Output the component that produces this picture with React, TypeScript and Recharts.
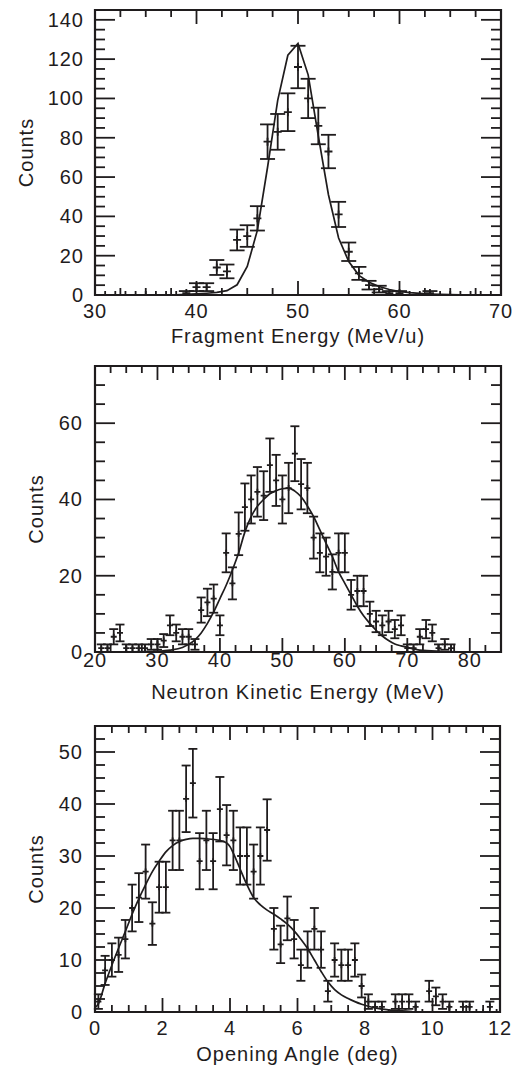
import React from 'react';
import { ComposedChart, Line, Scatter, ErrorBar, XAxis, YAxis, ReferenceArea } from 'recharts';

const INK = '#1f1c1d';
const FONT = '"Liberation Sans", Arial, Helvetica, sans-serif';
const FS = 20;
const LS = 1;

// ---------- Panel 1: Fragment Energy ----------
const fragEnergy = [31, 32, 33, 34, 35, 36, 37, 38, 39, 40, 41, 42, 43, 44, 45, 46, 47, 48, 49, 50, 51, 52, 53, 54, 55, 56, 57, 58, 59, 60, 61, 62, 63, 64, 65, 66, 67, 68, 69];
const fragCounts = [0, 0, 0, 0, 0, 0, 0, 0, 1, 4, 4, 14, 12, 28, 30, 39, 78, 83, 93, 116, 100, 86, 73, 41, 22, 11, 5, 3, 1, 1, 0, 0, 1, 0, 0, 0, 0, 0, 0];
const fragErrors = [0, 0, 0, 0, 0, 0, 0, 0, 1, 2, 2, 3.8, 3.5, 5.3, 5.5, 6.2, 8.8, 9.1, 9.6, 10.8, 10, 9.3, 8.5, 6.4, 4.7, 3.3, 2.2, 1.7, 1, 1, 0, 0, 1, 0, 0, 0, 0, 0, 0];
const fragFitEnergy = [37, 38, 39, 40, 41, 42, 43, 44, 45, 46, 47, 48, 49, 50, 51, 52, 53, 54, 55, 56, 57, 58, 59, 60, 61, 62, 63, 64, 65, 66, 68, 70];
const fragFitCounts = [0, 0.1, 0.3, 0.6, 0.9, 1.3, 2.2, 5.2, 14.5, 33, 65, 99, 122, 128, 112, 81, 51, 29, 17, 10, 6.5, 4.3, 2.8, 1.8, 1.2, 0.8, 0.5, 0.3, 0.2, 0.1, 0.05, 0];
const fragXMajor = [30, 40, 50, 60, 70];
const fragYMajor = [0, 20, 40, 60, 80, 100, 120, 140];

// ---------- Panel 2: Neutron Kinetic Energy ----------
const neutEnergy = [21, 22, 23, 24, 25, 26, 27, 28, 29, 30, 31, 32, 33, 34, 35, 36, 37, 38, 39, 40, 41, 42, 43, 44, 45, 46, 47, 48, 49, 50, 51, 52, 53, 54, 55, 56, 57, 58, 59, 60, 61, 62, 63, 64, 65, 66, 67, 68, 69, 70, 71, 72, 73, 74, 75, 76, 77];
const neutCounts = [1, 1, 4, 5, 1, 1, 1, 1, 2, 2, 3, 7, 5, 4, 4, 2, 11, 13, 14, 7, 26, 18, 31, 38, 40, 42, 41, 49, 45, 40, 43, 52, 44, 43, 30, 26, 25, 21, 26, 26, 15, 16, 16, 10, 8, 7, 8, 6, 7, 1, 1, 4, 6, 5, 1, 2, 1];
const neutErrors = [1, 1, 2, 2.2, 1, 1, 1, 1, 1.4, 1.4, 1.7, 2.6, 2.2, 2, 2, 1.4, 3.3, 3.6, 3.7, 2.6, 5.1, 4.2, 5.6, 6.2, 6.3, 6.5, 6.4, 7, 6.7, 6.3, 6.6, 7.2, 6.6, 6.6, 5.5, 5.1, 5, 4.6, 5.1, 5.1, 3.9, 4, 4, 3.2, 2.8, 2.6, 2.8, 2.4, 2.6, 1, 1, 2, 2.4, 2.2, 1, 1.4, 1];
const neutFitEnergy = [25, 28, 30, 32, 34, 35, 36, 37, 38, 39, 40, 41, 42, 43, 44, 45, 46, 47, 48, 49, 50, 51, 52, 53, 54, 55, 56, 57, 58, 59, 60, 61, 62, 63, 64, 65, 66, 67, 68, 69, 70, 72, 75, 80];
const neutFitCounts = [0.05, 0.1, 0.2, 0.5, 1.2, 2, 3.2, 5, 7.5, 10.5, 14, 17.5, 21.5, 26, 31.5, 35.5, 38.2, 40, 41.5, 42.3, 42.8, 43, 42.2, 40.7, 38.3, 35.5, 32, 28.5, 25, 21, 18, 15, 12, 9.5, 7.5, 5.7, 4.2, 3, 2.1, 1.6, 1.2, 0.5, 0.2, 0.05];
const neutXMajor = [20, 30, 40, 50, 60, 70, 80];
const neutYMajor = [0, 20, 40, 60];

// ---------- Panel 3: Opening Angle ----------
const angleDeg = [0.1, 0.3, 0.5, 0.7, 0.9, 1.1, 1.3, 1.5, 1.7, 1.9, 2.1, 2.3, 2.5, 2.7, 2.9, 3.1, 3.3, 3.5, 3.7, 3.9, 4.1, 4.3, 4.5, 4.7, 4.9, 5.1, 5.3, 5.5, 5.7, 5.9, 6.1, 6.3, 6.5, 6.7, 6.9, 7.1, 7.3, 7.5, 7.7, 7.9, 8.1, 8.3, 8.5, 8.7, 8.9, 9.1, 9.3, 9.5, 9.7, 9.9, 10.1, 10.3, 10.5, 10.7, 10.9, 11.1, 11.3, 11.5, 11.7, 11.9];
const angleCounts = [2, 8, 10, 11, 14, 20, 22, 27, 17, 24, 24, 33, 33, 41, 44, 29, 33, 29, 39, 34, 33, 30, 30, 27, 30, 35, 16, 13, 18, 14, 9, 12, 16, 12, 4, 10, 9, 9, 10, 5, 2, 1, 1, 0, 2, 2, 2, 1, 0, 4, 3, 2, 1, 0, 1, 1, 0, 0, 1, 0];
const angleErrors = [1.4, 2.8, 3.2, 3.3, 3.7, 4.5, 4.7, 5.2, 4.1, 4.9, 4.9, 5.7, 5.7, 6.4, 6.6, 5.4, 5.7, 5.4, 6.2, 5.8, 5.7, 5.5, 5.5, 5.2, 5.5, 5.9, 4, 3.6, 4.2, 3.7, 3, 3.5, 4, 3.5, 2, 3.2, 3, 3, 3.2, 2.2, 1.4, 1, 1, 0, 1.4, 1.4, 1.4, 1, 0, 2, 1.7, 1.4, 1, 0, 1, 1, 0, 0, 1, 0];
const angleFitDeg = [0, 0.1, 0.3, 0.5, 0.7, 0.9, 1.1, 1.3, 1.5, 1.7, 1.9, 2.1, 2.3, 2.5, 2.7, 2.9, 3.1, 3.3, 3.5, 3.7, 3.9, 4.0, 4.1, 4.3, 4.5, 4.7, 4.9, 5.1, 5.3, 5.5, 5.7, 5.9, 6.1, 6.3, 6.5, 6.7, 6.9, 7.1, 7.3, 7.5, 7.7, 7.9, 8.1, 8.3, 8.5, 8.7, 8.9, 9.1, 9.4];
const angleFitCounts = [0.8, 1.6, 5.5, 9, 12.3, 15.5, 18.8, 21.8, 24.5, 27, 29, 30.8, 32, 32.8, 33.2, 33.4, 33.4, 33.3, 33.2, 33, 32.5, 31.8, 30.5, 27.5, 24.5, 22, 20.6, 19.6, 18.8, 17.9, 16.9, 15.6, 14, 12.2, 10, 7.8, 5.8, 4.3, 3.3, 2.6, 2, 1.5, 1.1, 0.8, 0.55, 0.4, 0.3, 0.2, 0.1];
const angleXMajor = [0, 2, 4, 6, 8, 10, 12];
const angleYMajor = [0, 10, 20, 30, 40, 50];

const minorTicks = (lo: number, hi: number, step: number) => {
  const out: number[] = [];
  const n = Math.round((hi - lo) / step);
  for (let i = 0; i <= n; i++) out.push(+(lo + i * step).toFixed(4));
  return out;
};

const textStyle = { fontFamily: FONT, fontSize: FS, letterSpacing: LS, fill: INK } as const;

const Plus = (props: any) => {
  const { cx, cy, r } = props;
  if (cx == null || cy == null) return null;
  return (
    <path d={`M${cx - r},${cy}H${cx + r}M${cx},${cy - r}V${cy + r}`} stroke={INK} strokeWidth={1.8} fill="none" />
  );
};

type PanelProps = {
  top: number;
  height: number;
  marginTop: number;
  marginRight: number;
  xAxisHeight: number;
  points: { x: number; y: number; e: number }[];
  fit: { x: number; y: number }[];
  xDomain: [number, number];
  yDomain: [number, number];
  xMajor: number[];
  xMinorStep: number;
  yMajor: number[];
  yMinorStep: number;
  xTitle: string;
  xTitleBaseline: number;
  xLabelDy: number;
  yTitleBaseline: number;
  yLabelRight: number;
  cap: number;
  mark: number;
  fitType: 'linear' | 'monotone';
};

const W = 521;
const YW = 95;

const Panel = (p: PanelProps) => {
  const plotH = p.height - p.marginTop - p.xAxisHeight;
  const plotW = W - YW - p.marginRight;
  const xTicks = minorTicks(p.xDomain[0], p.xDomain[1], p.xMinorStep);
  const yTicks = minorTicks(p.yDomain[0], p.yDomain[1], p.yMinorStep);

  const XTick = (t: any) => {
    const v = t.payload.value;
    const major = p.xMajor.includes(v);
    const len = major ? 14 : 7;
    const { x, y } = t;
    return (
      <g>
        <line x1={x} x2={x} y1={y} y2={y - len} stroke={INK} strokeWidth={1.8} />
        <line x1={x} x2={x} y1={y - plotH} y2={y - plotH + len} stroke={INK} strokeWidth={1.8} />
        {major && (
          <text x={x} y={y + p.xLabelDy} textAnchor="middle" style={textStyle}>
            {v}
          </text>
        )}
      </g>
    );
  };

  const YTick = (t: any) => {
    const v = t.payload.value;
    const major = p.yMajor.includes(v);
    const len = major ? 20 : 10;
    const { x, y } = t;
    return (
      <g>
        <line x1={x} x2={x + len} y1={y} y2={y} stroke={INK} strokeWidth={1.8} />
        <line x1={x + plotW} x2={x + plotW - len} y1={y} y2={y} stroke={INK} strokeWidth={1.8} />
        {major && (
          <text x={p.yLabelRight} y={y + 7} textAnchor="end" style={textStyle}>
            {v}
          </text>
        )}
      </g>
    );
  };

  const yCenter = p.marginTop + plotH / 2;
  const xCenter = YW + plotW / 2;

  return (
    <div style={{ position: 'absolute', left: 0, top: p.top, width: W, height: p.height }}>
      <ComposedChart
        width={W}
        height={p.height}
        margin={{ top: p.marginTop, right: p.marginRight, bottom: 0, left: 0 }}
      >
        <XAxis
          type="number"
          dataKey="x"
          domain={p.xDomain}
          ticks={xTicks}
          interval={0}
          tick={<XTick />}
          tickLine={false}
          axisLine={false}
          tickSize={0}
          tickMargin={0}
          height={p.xAxisHeight}
          allowDataOverflow
        />
        <YAxis
          type="number"
          dataKey="y"
          domain={p.yDomain}
          ticks={yTicks}
          interval={0}
          tick={<YTick />}
          tickLine={false}
          axisLine={false}
          tickSize={0}
          tickMargin={0}
          width={YW}
          allowDataOverflow
        />
        <ReferenceArea
          x1={p.xDomain[0]}
          x2={p.xDomain[1]}
          y1={p.yDomain[0]}
          y2={p.yDomain[1]}
          fill="none"
          fillOpacity={0}
          stroke={INK}
          strokeWidth={2.2}
          ifOverflow="visible"
        />
        <Line
          data={p.fit}
          dataKey="y"
          type={p.fitType}
          dot={false}
          activeDot={false}
          stroke={INK}
          strokeWidth={1.7}
          isAnimationActive={false}
        />
        <Scatter
          data={p.points}
          dataKey="y"
          shape={(s: any) => <Plus cx={s.cx} cy={s.cy} r={p.mark} />}
          isAnimationActive={false}
        >
          <ErrorBar dataKey="e" direction="y" width={p.cap} stroke={INK} strokeWidth={1.8} isAnimationActive={false} />
        </Scatter>
        <text x={xCenter} y={p.xTitleBaseline} textAnchor="middle" style={textStyle}>
          {p.xTitle}
        </text>
        <text
          x={p.yTitleBaseline}
          y={yCenter}
          textAnchor="middle"
          transform={`rotate(-90 ${p.yTitleBaseline} ${yCenter})`}
          style={textStyle}
        >
          Counts
        </text>
      </ComposedChart>
    </div>
  );
};

const zip = (xs: number[], ys: number[], es: number[]) => xs.map((x, i) => ({ x, y: ys[i], e: es[i] }));
const zip2 = (xs: number[], ys: number[]) => xs.map((x, i) => ({ x, y: ys[i] }));

export default function App() {
  return (
    <div style={{ position: 'absolute', left: 0, top: 0, width: W, height: 1070, background: '#fff' }}>
      <Panel
        top={0}
        height={360}
        marginTop={10}
        marginRight={20}
        xAxisHeight={65}
        points={zip(fragEnergy, fragCounts, fragErrors)}
        fit={zip2(fragFitEnergy, fragFitCounts)}
        xDomain={[30, 70]}
        yDomain={[0, 145]}
        xMajor={fragXMajor}
        xMinorStep={2.5}
        yMajor={fragYMajor}
        yMinorStep={5}
        xTitle="Fragment Energy (MeV/u)"
        xTitleBaseline={343}
        xLabelDy={23}
        yTitleBaseline={33}
        yLabelRight={84}
        cap={7.5}
        mark={4}
        fitType="linear"
      />
      <Panel
        top={350}
        height={360}
        marginTop={16}
        marginRight={20}
        xAxisHeight={58}
        points={zip(neutEnergy, neutCounts, neutErrors)}
        fit={zip2(neutFitEnergy, neutFitCounts)}
        xDomain={[20, 85]}
        yDomain={[0, 75]}
        xMajor={neutXMajor}
        xMinorStep={2.5}
        yMajor={neutYMajor}
        yMinorStep={5}
        xTitle="Neutron Kinetic Energy (MeV)"
        xTitleBaseline={349}
        xLabelDy={15}
        yTitleBaseline={43}
        yLabelRight={83}
        cap={4.5}
        mark={3}
        fitType="monotone"
      />
      <Panel
        top={700}
        height={370}
        marginTop={26}
        marginRight={21}
        xAxisHeight={58}
        points={zip(angleDeg, angleCounts, angleErrors)}
        fit={zip2(angleFitDeg, angleFitCounts)}
        xDomain={[0, 12]}
        yDomain={[0, 55]}
        xMajor={angleXMajor}
        xMinorStep={0.5}
        yMajor={angleYMajor}
        yMinorStep={2.5}
        xTitle="Opening Angle (deg)"
        xTitleBaseline={361}
        xLabelDy={22.5}
        yTitleBaseline={43}
        yLabelRight={83}
        cap={4.5}
        mark={3}
        fitType="monotone"
      />
    </div>
  );
}
